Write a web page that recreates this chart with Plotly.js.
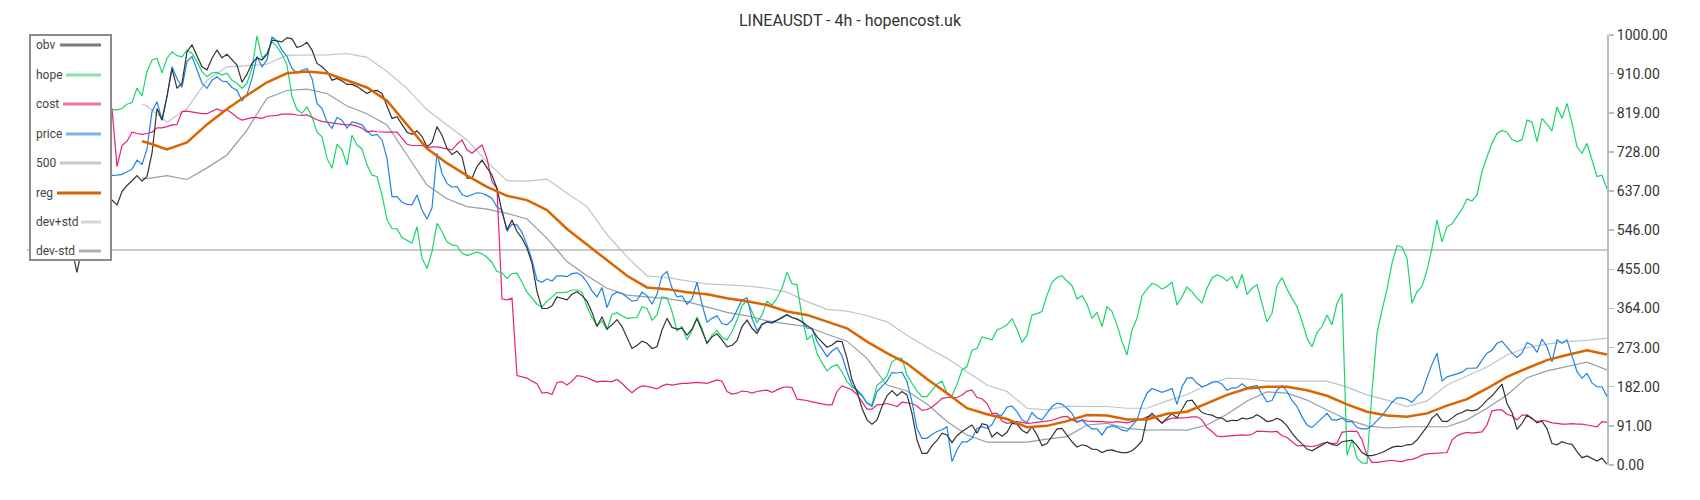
<!DOCTYPE html>
<html>
<head>
<meta charset="utf-8">
<script src="https://cdn.plot.ly/plotly-3.0.1.min.js"></script>
<style>
  html, body { margin: 0; padding: 0; background: #ffffff; }
  #chart { width: 1700px; height: 500px; }
</style>
</head>
<body>
<div id="chart"></div>
<script>
// ---- data ----
const obv = [null, 575, 590, 570, 600, 585, 560, 530, 510, 500, 448, 505, 560, 585, 600, 610, 620,
  616, 605, 636, 650, 661, 673, 660, 671, 725, 829, 802, 857, 922, 876, 888, 961, 977, 950, 926, 919, 946, 965, 947, 955, 942, 930, 890, 909, 934, 947, 942, 955, 988, 986, 984, 994,
  991, 971, 975, 983, 965, 934, 926, 915, 895, 899, 893, 885, 885, 880, 873, 864, 870, 871, 864, 837, 806, 810, 792, 774, 769, 777, 764, 740, 750, 787, 767, 736, 722, 730, 717, 667, 667, 694, 709, 690, 674, 643, 589, 547, 570, 543, 527, 504, 469, 403, 364, 364,
  370, 391, 388, 384, 397, 403, 394, 381, 355, 322, 345, 316, 326, 338, 322, 298, 271, 278, 288, 283, 271, 275, 314, 341, 320, 316, 318, 302, 316, 340, 314, 284, 298, 305, 291, 275, 278, 289, 322, 337, 318, 306, 326, 333, 330, 337, 343, 349, 343, 339, 333, 324,
  316, 298, 286, 274, 279, 288, 287, 248, 198, 171, 132, 105, 95, 105, 136, 161, 173, 161, 171, 163, 120, 58, 27, 27, 45, 57, 74, 70, 52, 68, 78, 85, 93, 74, 96, 93, 65, 76, 67, 76, 97, 95, 81, 74, 89, 70, 45, 50, 68, 84, 85, 70,
  54, 42, 47, 44, 37, 36, 29, 34, 35, 31, 29, 29, 33, 43, 56, 109, 120, 109, 97, 109, 119, 110, 129, 149, 151, 135, 122, 118, 116, 110, 109, 101, 104, 103, 109, 107, 110, 117, 110, 101, 103, 109, 103, 91, 74, 60, 49, 37, 33, 40, 47, 53,
  48, 45, 54, 56, 58, 45, 29, 22, 22, 25, 29, 35, 41, 44, 43, 47, 48, 58, 74, 89, 109, 119, 102, 101, 109, 118, 122, 128, 126, 128, 138, 151, 161, 174, 188, 143, 122, 83, 97, 116, 109, 98, 102, 84, 50, 47, 54, 50, 48, 31, 17, 21, 14, 9, 16, 2];

const hope = [null, 810, 815, 820, 818, 822, 825, 820, 824, 826, 822, 825, 828, 824, 826, 826, 826,
  826, 826, 829, 839, 843, 876, 859, 915, 942, 946, 912, 946, 961, 952, 949, 965, 957, 938, 915, 903, 912, 913, 907, 911, 895, 888, 876, 888, 922, 998, 946, 957, 984, 973, 955, 930,
  857, 826, 818, 833, 810, 774, 763, 713, 690, 746, 733, 698, 767, 744, 735, 698, 674, 671, 628, 570, 550, 549, 529, 523, 516, 554, 481, 457, 496, 562, 543, 519, 512, 510, 493, 487, 491, 495, 491, 483, 471, 450, 447, 434, 445, 446, 425, 402, 388, 374, 367, 381,
  391, 401, 401, 402, 407, 407, 402, 368, 343, 324, 335, 314, 350, 354, 347, 341, 342, 343, 368, 364, 337, 349, 391, 389, 357, 312, 322, 291, 313, 344, 318, 281, 302, 313, 297, 291, 310, 337, 371, 382, 357, 331, 349, 381, 372, 388, 411, 448, 422, 419, 345, 291,
  302, 260, 238, 219, 229, 233, 217, 194, 181, 175, 163, 143, 141, 186, 194, 207, 240, 248, 248, 209, 190, 172, 159, 159, 174, 188, 195, 167, 161, 188, 221, 229, 267, 271, 298, 295, 291, 314, 319, 326, 340, 316, 285, 302, 349, 352, 357, 395, 425, 436, 440, 428,
  417, 386, 394, 374, 341, 355, 322, 368, 357, 326, 287, 256, 314, 341, 393, 409, 422, 418, 409, 415, 426, 372, 391, 414, 403, 388, 377, 411, 435, 442, 438, 428, 438, 411, 443, 397, 411, 419, 376, 333, 353, 417, 436, 409, 388, 368, 335, 295, 275, 308, 322, 349,
  326, 376, 399, 23, 58, 16, 5, 4, 171, 306, 360, 409, 469, 510, 507, 481, 376, 403, 415, 453, 505, 570, 519, 554, 561, 578, 595, 619, 614, 628, 682, 717, 748, 771, 778, 774, 757, 752, 756, 802, 798, 752, 806, 792, 777, 833, 806, 841, 795, 740, 725, 748, 709, 671, 674, 642];

const cost = [null, 830, 828, 830, 832, 830, 829, 830, 831, 830, 829, 830, 830, 829, 830, 830, 830,
  829, 694, 743, 753, 774, 771, 769, 771, 774, 784, 784, 787, 791, 792, 822, 823, 821, 819, 817, 817, 823, 828, 823, 826, 818, 808, 802, 805, 808, 808, 806, 811, 812, 813, 816, 816,
  816, 814, 813, 814, 808, 803, 799, 797, 795, 794, 792, 791, 791, 788, 783, 774, 777, 775, 774, 774, 774, 774, 760, 746, 743, 743, 743, 738, 740, 740, 738, 736, 733, 746, 756, 733, 725, 735, 744, 713, 659, 643, 386, 384, 388, 208, 205, 202, 195, 189, 167, 169,
  164, 192, 194, 186, 195, 208, 206, 203, 198, 193, 195, 195, 194, 199, 190, 178, 168, 178, 184, 183, 180, 177, 184, 188, 186, 188, 190, 190, 191, 192, 191, 190, 194, 198, 195, 171, 165, 167, 172, 171, 167, 171, 173, 174, 169, 175, 180, 182, 180, 153, 152, 150,
  147, 145, 143, 140, 140, 171, 184, 180, 175, 164, 147, 130, 130, 140, 141, 143, 140, 136, 146, 144, 143, 137, 127, 129, 135, 144, 155, 157, 157, 157, 163, 172, 174, 157, 154, 143, 120, 120, 102, 97, 99, 101, 99, 97, 98, 99, 100, 102, 104, 108, 112, 113,
  105, 101, 105, 102, 101, 101, 101, 100, 99, 101, 99, 98, 101, 105, 107, 112, 115, 106, 98, 105, 109, 109, 109, 110, 112, 112, 105, 87, 78, 67, 66, 67, 68, 69, 70, 69, 71, 79, 78, 77, 77, 78, 68, 64, 54, 45, 45, 44, 43, 45, 50, 53,
  50, 51, 76, 78, 78, 78, 58, 23, 6, 6, 8, 9, 11, 9, 8, 12, 13, 17, 23, 26, 27, 27, 28, 29, 58, 68, 73, 76, 74, 75, 77, 93, 126, 128, 128, 118, 114, 105, 116, 116, 107, 101, 104, 102, 98, 97, 95, 95, 96, 95, 95, 93, 91, 89, 101, 99];

const price = [null, 665, 668, 670, 672, 670, 668, 671, 673, 672, 670, 673, 671, 672, 673, 673, 673,
  673, 674, 676, 682, 688, 709, 699, 735, 822, 845, 802, 857, 926, 899, 878, 938, 950, 919, 888, 876, 895, 903, 893, 891, 878, 871, 847, 862, 899, 950, 926, 942, 995, 986, 965, 950,
  922, 912, 918, 922, 899, 841, 829, 798, 783, 808, 802, 783, 798, 795, 791, 777, 766, 769, 756, 713, 624, 624, 611, 606, 605, 628, 593, 572, 598, 725, 678, 655, 646, 648, 629, 624, 628, 633, 632, 627, 620, 600, 593, 544, 560, 558, 541, 512, 477, 430, 425, 433,
  428, 440, 440, 438, 445, 447, 440, 425, 405, 391, 413, 366, 395, 402, 399, 391, 381, 383, 402, 394, 374, 397, 440, 450, 412, 391, 393, 374, 386, 425, 374, 332, 341, 347, 329, 326, 337, 360, 384, 389, 341, 312, 328, 333, 333, 337, 343, 350, 343, 340, 333, 318,
  318, 287, 270, 252, 265, 273, 254, 217, 186, 171, 161, 144, 136, 171, 183, 195, 215, 214, 216, 194, 147, 85, 62, 62, 71, 78, 82, 89, 8, 35, 54, 54, 62, 85, 89, 85, 94, 116, 116, 135, 137, 124, 105, 99, 122, 110, 105, 121, 136, 144, 141, 132,
  120, 99, 104, 93, 84, 84, 70, 87, 91, 88, 81, 79, 93, 105, 141, 167, 178, 174, 169, 173, 178, 141, 182, 202, 203, 190, 182, 186, 193, 194, 188, 174, 179, 180, 189, 180, 182, 185, 165, 147, 150, 174, 185, 171, 150, 136, 112, 93, 87, 98, 107, 120,
  105, 105, 109, 101, 101, 87, 84, 84, 91, 102, 115, 130, 146, 156, 156, 153, 146, 159, 169, 203, 234, 260, 195, 205, 208, 212, 216, 225, 225, 226, 244, 260, 267, 283, 288, 275, 260, 250, 260, 285, 279, 262, 293, 275, 240, 291, 283, 291, 256, 217, 202, 213, 191, 182, 182, 159];

const reg = [753, 750, 734, 750, 792, 828, 860, 890, 911, 915, 911, 894, 878, 847, 791, 736, 702, 673, 647, 626, 616, 593,
  549, 513, 477, 440, 413, 409, 402, 397, 388, 381, 372, 357, 349, 333, 318, 287, 260, 236, 200, 167, 132, 118, 107, 88, 91, 102,
  116, 115, 106, 106, 119, 124, 143, 163, 178, 182, 182, 174, 161, 141, 124, 115, 112, 120, 138, 153, 178, 205, 225, 244, 256, 267, 257];

const devPlus = [839, 835, 797, 829, 895, 926, 929, 932, 953, 953, 954, 957, 948, 915, 876, 826, 792, 756, 705, 661, 660, 665,
  632, 601, 536, 484, 440, 436, 428, 421, 419, 416, 411, 402, 380, 362, 358, 347, 333, 302, 274, 248, 217, 186, 171, 132, 128, 137,
  136, 136, 132, 132, 149, 164, 186, 202, 200, 195, 195, 195, 195, 181, 163, 151, 136, 149, 186, 207, 228, 256, 273, 281, 287, 290, 295];

const devMinus = [667, 666, 673, 664, 691, 721, 779, 853, 871, 874, 864, 835, 817, 791, 721, 651, 619, 601, 595, 585, 572, 527,
  473, 440, 411, 395, 391, 387, 380, 368, 355, 347, 335, 328, 322, 304, 288, 248, 186, 172, 142, 101, 70, 53, 53, 53, 60, 66,
  93, 97, 85, 81, 82, 81, 93, 118, 149, 170, 167, 151, 128, 106, 91, 86, 89, 89, 89, 105, 132, 163, 203, 219, 229, 239, 221];

const level500 = [500, 500];
const yTicks = [0, 91, 182, 273, 364, 455, 546, 637, 728, 819, 910, 1000];
const titleText = 'LINEAUSDT - 4h - hopencost.uk';

// time index (candle positions)
const idx = obv.map((_, i) => i);
const smoothIdx = [23].concat(reg.slice(1).map((_, k) => 24 + 4 * k));
const lastIdx = idx[idx.length - 1];

// ---- layout geometry ----
const W = 1700, H = 500;
const M = { l: 27, r: 93, t: 35, b: 35 };
const PW = W - M.l - M.r, PH = H - M.t - M.b;
const px = (p) => (p - M.l) / PW;
const py = (p) => (H - M.b - p) / PH;

const FONT = 'Roboto, "Open Sans", sans-serif';

const line = (name, x, y, color, width) => ({
  type: 'scatter', mode: 'lines', name: name, x: x, y: y,
  line: { color: color, width: width }, hoverinfo: 'skip', showlegend: false
});

const traces = [
  line('500', [0, lastIdx], level500, '#c9c9c9', 2),
  line('dev+std', smoothIdx, devPlus, '#bcc4cc', 1.2),
  line('dev-std', smoothIdx, devMinus, '#929eaa', 1.2),
  line('cost', idx, cost, '#e3227c', 1.2),
  line('hope', idx, hope, '#19d66a', 1.2),
  line('price', idx, price, '#1f83e4', 1.2),
  line('obv', idx, obv, '#333333', 1.2),
  line('reg', smoothIdx, reg, '#d96400', 2.5)
];

// ---- custom legend (text then swatch) ----
const legendItems = [
  { name: 'obv', y: 45, x0: 60, color: '#7a7a7a' },
  { name: 'hope', y: 75, x0: 66, color: '#7ee6a6' },
  { name: 'cost', y: 104, x0: 63, color: '#ec74a8' },
  { name: 'price', y: 134, x0: 66, color: '#78b4ec' },
  { name: '500', y: 163, x0: 60, color: '#c8c8c8' },
  { name: 'reg', y: 193, x0: 57, color: '#d96400' },
  { name: 'dev+std', y: 222, x0: 81, color: '#d3d7db' },
  { name: 'dev-std', y: 251, x0: 79, color: '#a9b2ba' }
];

const shapes = [{
  type: 'rect', xref: 'paper', yref: 'paper', layer: 'above',
  x0: px(30), x1: px(111), y0: py(260), y1: py(35),
  fillcolor: '#ffffff', line: { color: '#8c8c8c', width: 2 }
}];
const annotations = [];
legendItems.forEach(it => {
  shapes.push({
    type: 'line', xref: 'paper', yref: 'paper', layer: 'above',
    x0: px(it.x0), x1: px(101), y0: py(it.y), y1: py(it.y),
    line: { color: it.color, width: 3 }
  });
  annotations.push({
    xref: 'paper', yref: 'paper', x: px(34), y: py(it.y),
    xanchor: 'left', yanchor: 'middle', showarrow: false,
    text: it.name, font: { family: FONT, size: 12, color: '#444444' }
  });
});

const layout = {
  width: W, height: H,
  margin: M,
  paper_bgcolor: '#ffffff', plot_bgcolor: '#ffffff',
  showlegend: false,
  title: {
    text: titleText, x: 0.5, xanchor: 'center', xref: 'container',
    y: 1 - 20 / H, yanchor: 'middle', yref: 'container',
    font: { family: FONT, size: 16, color: '#333333' }
  },
  xaxis: {
    range: [0, lastIdx], visible: false, showgrid: false, zeroline: false, fixedrange: true
  },
  yaxis: {
    side: 'right', range: [0, 1000], tickmode: 'array', tickvals: yTicks, tickformat: '.2f',
    ticks: 'outside', ticklen: 5, tickwidth: 1.5, tickcolor: '#b4bcc4',
    showline: true, linecolor: '#b4bcc4', linewidth: 2,
    showgrid: false, zeroline: false,
    tickfont: { family: FONT, size: 14, color: '#333333' }
  },
  shapes: shapes,
  annotations: annotations
};

Plotly.newPlot('chart', traces, layout, { staticPlot: true, displayModeBar: false });
</script>
</body>
</html>
